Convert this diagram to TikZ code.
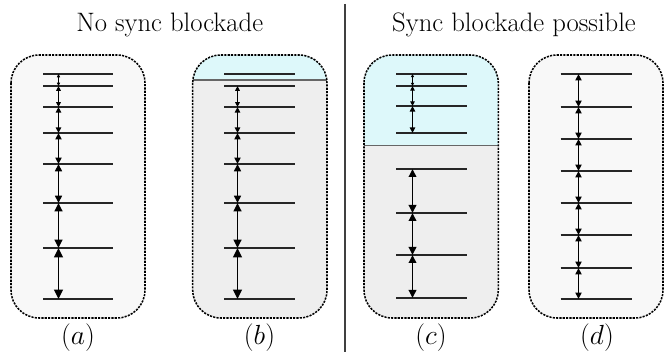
\documentclass[tikz,border=0pt]{standalone}
\usetikzlibrary{arrows.meta}
\definecolor{lightpanel}{RGB}{248,248,248}
\definecolor{graypanel}{RGB}{238,238,238}
\definecolor{cyanpanel}{RGB}{221,248,250}
\tikzset{
  panelborder/.style={draw=black, line width=1.15pt, dash pattern=on 1.6pt off 0.9pt, rounded corners=21pt},
  panelclip/.style={rounded corners=21pt},
  level/.style={line width=1.5pt, draw=black!85},
  sepline/.style={line width=0.8pt, draw=black!60},
  dbl/.style={line width=1.1pt, {Triangle[length=#1pt,width'=0pt 0.95,scale=1.2]}-{Triangle[length=#1pt,width'=0pt 0.95,scale=1.2]}},
  bigtext/.style={font=\fontsize{20}{24}\selectfont, inner sep=0pt, anchor=base},
  divider/.style={line width=1pt, draw=black!75}
}
\begin{document}
\begin{tikzpicture}[x=0.75pt,y=-0.75pt]
\useasboundingbox (0,0) rectangle (670,352);

% titles and divider
\node[bigtext] (t1) at (169.7,31.7) {No sync blockade};
\node[bigtext] (t2) at (514,31.7) {Sync blockade possible};
\coordinate (dtop) at (345,4);
\coordinate (dbot) at (345,352);
\draw[divider] (dtop) -- (dbot);

% ---------- panel (a)
\fill[lightpanel, panelclip] (11,55) rectangle (145,318);
\draw[panelborder] (11,55) rectangle (145,318);
\foreach \y [count=\i] in {74,86,107,133,164,203,248,299} {
  \coordinate (a\i) at (58.5,\y);
  \draw[level] (43,\y) -- (113,\y);
}
\foreach \i/\j/\L in {1/2/2.1,2/3/3.0,3/4/3.5,4/5/4.0,5/6/4.6,6/7/5.2,7/8/5.8}
  \draw[dbl=\L] (a\i) -- (a\j);
\node[bigtext] (la) at (78,344) {$(a)$};

% ---------- panel (b)
\begin{scope}
  \clip[panelclip] (192.7,55) rectangle (327,318);
  \fill[graypanel] (192.7,55) rectangle (327,318);
  \fill[cyanpanel] (192.7,55) rectangle (327,80);
  \draw[sepline] (192.7,80) -- (327,80);
\end{scope}
\draw[panelborder] (192.7,55) rectangle (327,318);
\foreach \y [count=\i] in {74,86,107,133,164,203,248,299} {
  \coordinate (b\i) at (237.5,\y);
  \draw[level] (224.3,\y) -- (295.3,\y);
}
\foreach \i/\j/\L in {2/3/3.0,3/4/3.5,4/5/4.0,5/6/4.6,6/7/5.2,7/8/5.8}
  \draw[dbl=\L] (b\i) -- (b\j);
\node[bigtext] (lb) at (259.5,344) {$(b)$};

% ---------- panel (c)
\begin{scope}
  \clip[panelclip] (364,55) rectangle (498.3,318);
  \fill[graypanel] (364,55) rectangle (498.3,318);
  \fill[cyanpanel] (364,55) rectangle (498.3,145.7);
  \draw[sepline] (364,145.7) -- (498.3,145.7);
\end{scope}
\draw[panelborder] (364,55) rectangle (498.3,318);
\foreach \y [count=\i] in {74,86,106,133,169,213,255,298} {
  \coordinate (c\i) at (412.5,\y);
  \draw[level] (396,\y) -- (466.7,\y);
}
\foreach \i/\j/\L in {1/2/2.0,2/3/2.9,3/4/3.5,5/6/5.0,6/7/5.0,7/8/5.0}
  \draw[dbl=\L] (c\i) -- (c\j);
\node[bigtext] (lc) at (431,344) {$(c)$};

% ---------- panel (d)
\fill[lightpanel, panelclip] (529,55) rectangle (663,318);
\draw[panelborder] (529,55) rectangle (663,318);
\foreach \y [count=\i] in {74,107,139,171,203,235,268,299} {
  \coordinate (d\i) at (578.5,\y);
  \draw[level] (560.7,\y) -- (631.7,\y);
}
\foreach \i/\j in {1/2,2/3,3/4,4/5,5/6,6/7,7/8}
  \draw[dbl=4.0] (d\i) -- (d\j);
\node[bigtext] (ld) at (597,344) {$(d)$};
\end{tikzpicture}
\end{document}
